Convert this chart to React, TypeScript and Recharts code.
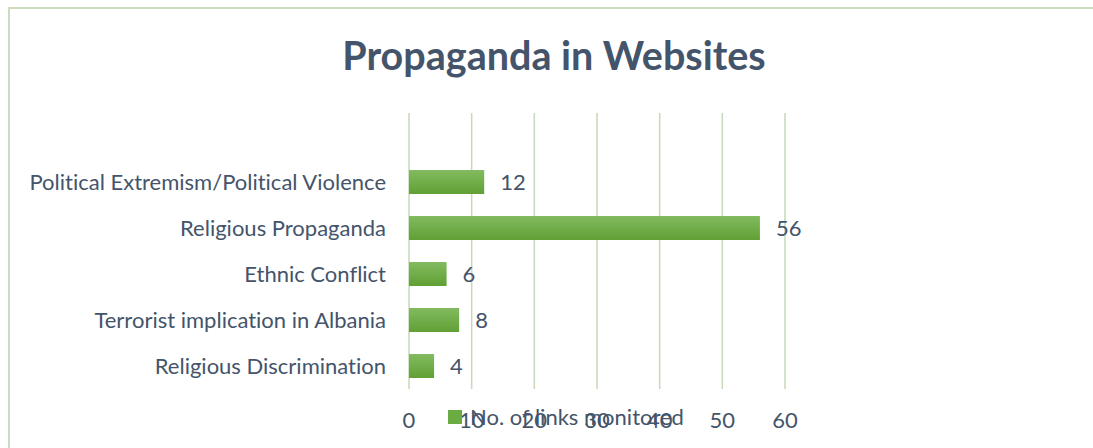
import React from "react";
import {Bar, BarChart, CartesianGrid, LabelList, XAxis, YAxis} from "recharts";

const categories = [
    "",
    "Political Extremism/Political Violence",
    "Religious Propaganda",
    "Ethnic Conflict",
    "Terrorist implication in Albania",
    "Religious Discrimination",
];
const linksMonitored: (number | null)[] = [null, 12, 56, 6, 8, 4];
const xTicks = [0, 10, 20, 30, 40, 50, 60];
const seriesName = "No. of links monitored";
const title = "Propaganda in Websites";

const data = categories.map((name, i) => ({name, value: linksMonitored[i]}));

const TEXT = "#44546a";
const FONT = "Lato, 'Open Sans', sans-serif";
const noLig = {fontVariantLigatures: "none" as const};

const CategoryTick = (props: any) => {
    const {x, y, payload} = props;
    return (
        <text x={x - 15} y={y} dy={8} textAnchor="end" fontSize={22} fill={TEXT} fontFamily={FONT} style={noLig}>
            {payload.value}
        </text>
    );
};

const ValueTick = (props: any) => {
    const {x, y, payload} = props;
    return (
        <text x={x} y={y + 23} dy={8} textAnchor="middle" fontSize={22} fill={TEXT} fontFamily={FONT}>
            {payload.value}
        </text>
    );
};

const renderValue = (props: any) => {
    const {x, y, width, height, value} = props;
    if (value === null || value === undefined) return null;
    return (
        <text x={x + width + 16} y={y + height / 2} dy={8} fontSize={22} fill={TEXT} fontFamily={FONT}>
            {value}
        </text>
    );
};

export default function App() {
    return (
        <div style={{position: "fixed", left: 0, top: 0, width: 1093, height: 448, background: "#fff", overflow: "hidden"}}>
            <div style={{
                position: "absolute", left: 8, top: 7, width: 1100, height: 460,
                borderLeft: "2px solid #cbdcbf", borderTop: "2px solid #cbdcbf"
            }}/>
            <div style={{
                position: "absolute", left: 0, top: 35, width: 1108, textAlign: "center",
                fontFamily: FONT, fontWeight: 700, fontSize: 39.5, lineHeight: "39px", color: TEXT, ...noLig
            }}>
                {title}
            </div>
            <BarChart
                width={1093}
                height={448}
                data={data}
                layout="vertical"
                margin={{top: 113, right: 308, bottom: 0, left: 0}}
                barSize={24}
                style={{position: "absolute", left: 0, top: 0}}
            >
                <defs>
                    <linearGradient id="barFill" x1="0" y1="0" x2="0" y2="1">
                        <stop offset="0%" stopColor="#82bb60"/>
                        <stop offset="100%" stopColor="#60a034"/>
                    </linearGradient>
                </defs>
                <CartesianGrid horizontal={false} stroke="#c6d9b8" strokeWidth={1.5}/>
                <XAxis type="number" domain={[0, 60]} ticks={xTicks} axisLine={false} tickLine={false}
                       tick={<ValueTick/>} height={59}/>
                <YAxis type="category" dataKey="name" width={409} axisLine={false} tickLine={false}
                       tick={<CategoryTick/>} interval={0}/>
                <Bar dataKey="value" name={seriesName} fill="url(#barFill)" isAnimationActive={false}>
                    <LabelList dataKey="value" content={renderValue}/>
                </Bar>
            </BarChart>
            <div style={{
                position: "absolute", left: 448, top: 406, height: 22, display: "flex", alignItems: "center",
                fontFamily: FONT, fontSize: 22, lineHeight: "22px", color: TEXT, ...noLig
            }}>
                <span style={{width: 14, height: 14, background: "#6aab42", display: "inline-block"}}/>
                <span style={{marginLeft: 8}}>{seriesName}</span>
            </div>
        </div>
    );
}
